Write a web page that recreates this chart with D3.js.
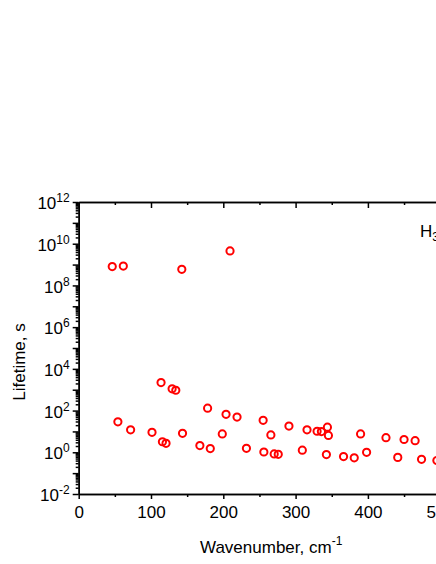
<!DOCTYPE html>
<html>
<head>
<meta charset="utf-8">
<script src="https://cdn.jsdelivr.net/npm/d3@7/dist/d3.min.js"></script>
<style>
  html, body { margin: 0; padding: 0; background: #fff; }
  svg { display: block; font-family: Arial, "Liberation Sans", sans-serif; }
</style>
</head>
<body>
<div id="chart"></div>
<script>
// values
var wavenumber = [46.4, 54.2, 61.7, 71.8, 101.4, 113.9, 115.8, 120.8, 129.2, 134.3,
  142.6, 143.6, 167.6, 178.3, 182, 198.6, 203.8, 209.3, 219, 232,
  255.1, 256.1, 265.8, 270.4, 276, 290.8, 309.3, 315.8, 329.7, 335.7,
  342.6, 344, 345.4, 366.3, 381.1, 389.9, 398.2, 425, 441.3, 450,
  465.3, 474.2, 495.4];
var lifetime = [8.0e8, 29, 8.5e8, 12, 9.1, 2200, 3.2, 2.7, 1100, 940,
  5.9e8, 8.1, 2.1, 130, 1.5, 7.6, 66, 4.5e9, 49, 1.55,
  34, 1.03, 6.8, 0.83, 0.80, 18, 1.26, 12, 10.2, 9.8,
  0.78, 16, 6.4, 0.62, 0.54, 7.6, 1.0, 5.0, 0.57, 4.1,
  3.6, 0.46, 0.40];

var xMajor = [0, 100, 200, 300, 400, 500];
var xMinor = [50, 150, 250, 350, 450];
var yLabelExp = [-2, 0, 2, 4, 6, 8, 10, 12];

var W = 436, H = 564;
var plotLeft = 78.7, plotRight = 440.2, plotTop = 202, plotBottom = 494;

var x = d3.scaleLinear().domain([0, 500]).range([plotLeft, plotRight]);
var y = d3.scaleLog().domain([1e-2, 1e12]).range([plotBottom, plotTop]);

var svg = d3.select("#chart").append("svg")
  .attr("width", W).attr("height", H);

var yMajor = d3.range(-2, 13).map(function(e) { return Math.pow(10, e); });
var yMinor = [];
for (var e = -2; e < 12; e++) {
  for (var k = 2; k <= 9; k++) yMinor.push(k * Math.pow(10, e));
}

function styleAxis(g) {
  g.selectAll("path, line").attr("stroke", "#000").attr("stroke-width", 1.5);
}

// bottom axis
svg.append("g").attr("transform", "translate(0," + plotBottom + ")")
  .call(d3.axisBottom(x).tickValues(xMinor).tickSize(3).tickSizeOuter(0).tickFormat(""))
  .call(styleAxis);
var gx = svg.append("g").attr("transform", "translate(0," + plotBottom + ")")
  .call(d3.axisBottom(x).tickValues(xMajor).tickSize(5).tickSizeOuter(0).tickPadding(7))
  .call(styleAxis);
gx.selectAll("text").attr("font-size", 17).attr("fill", "#000")
  .style("font-family", "Arial, 'Liberation Sans', sans-serif");

// top axis, ticks pointing in
svg.append("g").attr("transform", "translate(0," + plotTop + ")")
  .call(d3.axisBottom(x).tickValues(xMinor).tickSize(3).tickSizeOuter(0).tickFormat(""))
  .call(styleAxis);
svg.append("g").attr("transform", "translate(0," + plotTop + ")")
  .call(d3.axisBottom(x).tickValues(xMajor).tickSize(6).tickSizeOuter(0).tickFormat(""))
  .call(styleAxis);

// left axis
svg.append("g").attr("transform", "translate(" + plotLeft + ",0)")
  .call(d3.axisLeft(y).tickValues(yMinor).tickSize(3).tickSizeOuter(0).tickFormat(""))
  .call(styleAxis);
svg.append("g").attr("transform", "translate(" + plotLeft + ",0)")
  .call(d3.axisLeft(y).tickValues(yMajor).tickSize(6).tickSizeOuter(0).tickFormat(""))
  .call(styleAxis);

// y tick labels with superscripts
var yl = svg.append("g").selectAll("text").data(yLabelExp).enter().append("text")
  .attr("x", plotLeft - 9)
  .attr("y", function(d) { return y(Math.pow(10, d)); })
  .attr("dy", "0.42em")
  .attr("text-anchor", "end")
  .attr("font-size", 17);
yl.append("tspan").text("10");
yl.append("tspan").attr("font-size", 12).attr("dy", -7)
  .text(function(d) { return d < 0 ? "-" + (-d) : String(d); });

// points
svg.append("g").selectAll("circle").data(wavenumber).enter().append("circle")
  .attr("cx", function(d) { return x(d); })
  .attr("cy", function(d, i) { return y(lifetime[i]); })
  .attr("r", 3.6)
  .attr("fill", "none")
  .attr("stroke", "#ff0000")
  .attr("stroke-width", 2);

// axis titles
svg.append("text")
  .attr("transform", "translate(25,362) rotate(-90)")
  .attr("text-anchor", "middle")
  .attr("font-size", 17)
  .text("Lifetime, s");

var xt = svg.append("text").attr("x", 200).attr("y", 553).attr("font-size", 17);
xt.append("tspan").text("Wavenumber, cm");
xt.append("tspan").attr("font-size", 12).attr("dy", -8).text("-1");

// label at top right
var lab = svg.append("text").attr("x", 420).attr("y", 236.5).attr("font-size", 17);
lab.append("tspan").text("H");
lab.append("tspan").attr("font-size", 12).attr("dy", 4).text("3");
</script>
</body>
</html>
